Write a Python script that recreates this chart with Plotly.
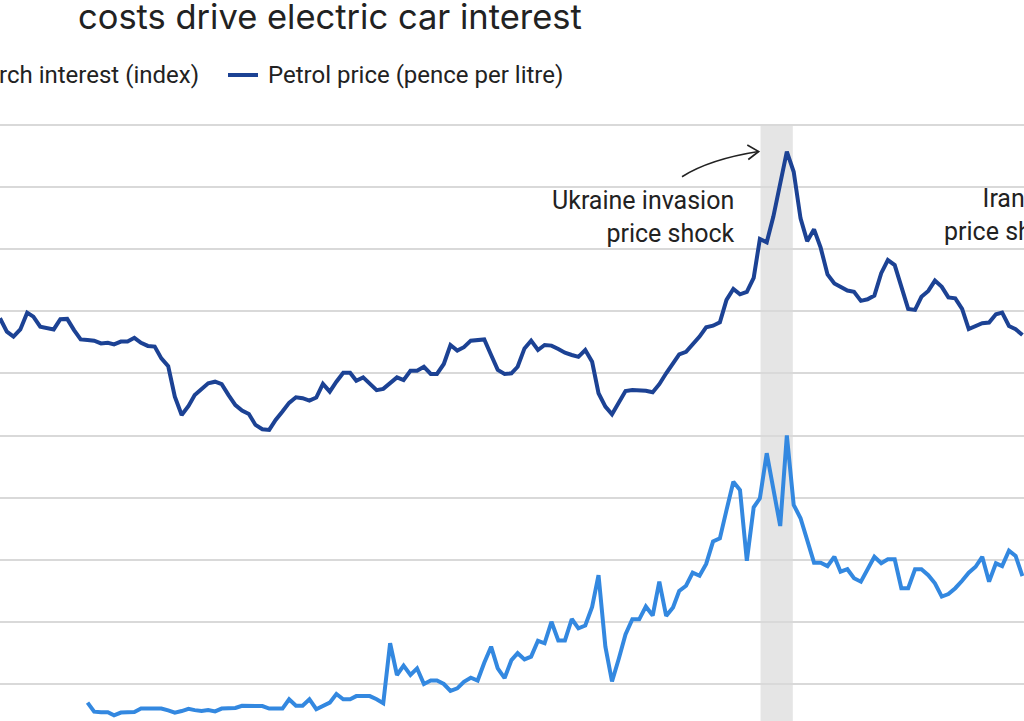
import pandas as pd
import plotly.graph_objects as go

# ---------------- data ----------------
months = pd.date_range("2012-10-01", periods=153, freq="MS")

petrol_pence = [
    137.7, 133.4, 131.8, 134.1, 139.5, 138.2, 135.0, 134.6, 134.1, 137.4,
    137.5, 133.9, 130.9, 130.7, 130.5, 129.6, 129.8, 129.3, 130.2, 130.2,
    131.4, 129.8, 128.8, 128.6, 124.8, 122.3, 112.5, 106.6, 109.5, 113.0,
    114.9, 116.8, 117.3, 116.5, 113.0, 109.8, 108.0, 106.9, 103.4, 102.0,
    101.8, 105.0, 107.7, 110.5, 112.3, 112.0, 111.2, 112.2, 116.6, 114.1,
    117.3, 120.2, 120.2, 117.6, 118.7, 116.6, 114.6, 115.0, 117.0, 118.7,
    117.8, 120.8, 120.8, 122.1, 119.8, 119.8, 123.0, 129.1, 127.3, 128.4,
    130.5, 130.7, 130.9, 125.9, 121.1, 119.8, 120.0, 122.1, 128.0, 130.5,
    127.5, 129.1, 128.9, 127.8, 126.6, 125.9, 125.3, 127.5, 123.7, 113.6,
    109.3, 106.8, 110.9, 114.3, 114.6, 114.6, 114.4, 113.9, 116.5, 120.0,
    123.2, 126.1, 126.9, 129.1, 131.8, 134.8, 135.3, 136.4, 143.6, 147.1,
    145.4, 146.2, 150.7, 163.2, 162.1, 170.4, 181.6, 191.3, 184.8, 169.8,
    162.5, 166.3, 160.4, 151.8, 148.9, 147.8, 146.6, 146.2, 143.3, 143.8,
    145.0, 152.2, 156.4, 154.8, 147.8, 140.7, 140.4, 144.6, 146.5, 149.8,
    147.8, 144.4, 144.1, 140.7, 134.2, 135.2, 136.1, 136.3, 139.0, 139.5,
    135.2, 134.2, 132.3,
]

search_index = [None] * 13 + [
    14.1, 11.2, 11.0, 11.0, 10.0, 10.9, 11.0, 11.1, 12.2, 12.2,
    12.2, 12.2, 11.6, 10.9, 11.4, 12.1, 11.7, 11.4, 11.7, 11.3,
    12.2, 12.2, 12.4, 13.1, 13.1, 13.1, 13.0, 12.2, 12.2, 12.2,
    15.2, 13.1, 13.1, 15.2, 12.0, 13.1, 14.1, 16.9, 15.2, 15.2,
    16.2, 16.2, 16.2, 15.2, 13.9, 33.2, 23.0, 26.0, 23.0, 25.1,
    20.1, 21.2, 21.2, 20.1, 17.9, 18.7, 20.8, 22.1, 21.2, 26.9,
    32.1, 25.1, 22.0, 27.8, 30.0, 28.0, 28.9, 34.0, 33.2, 40.1,
    34.1, 34.1, 41.0, 38.0, 38.9, 44.9, 55.1, 32.1, 20.9, 28.3,
    36.0, 40.9, 40.9, 45.0, 42.1, 53.0, 42.0, 44.7, 50.0, 51.7,
    55.9, 54.9, 58.7, 65.9, 66.9, 76.0, 85.1, 82.5, 59.7, 76.9,
    79.8, 94.3, 82.5, 70.9, 100.0, 77.7, 73.4, 65.9, 59.1, 59.1,
    58.0, 61.0, 56.2, 57.0, 54.1, 53.0, 57.0, 61.0, 58.9, 60.2,
    60.2, 50.9, 50.9, 57.0, 57.0, 55.1, 52.5, 48.2, 49.0, 50.9,
    53.3, 55.9, 57.8, 61.0, 53.0, 58.9, 58.0, 63.0, 61.3, 54.8,
]

series_names = ["Search interest (index)", "Petrol price (pence per litre)"]
title_text = "costs drive electric car interest"
ukraine_label = "Ukraine invasion<br>price shock"
iran_label = "Iran war<br>price shock"
ukraine_window = ["2022-03-04", "2022-07-28"]

# ---------------- style ----------------
DARK = "#1c4294"
LIGHT = "#3388e0"
GRID = "#d9d9d9"
BAND = "#e5e5e5"
TEXT = "#222222"
LABEL_FONT = "Roboto, Arial, sans-serif"

W, H, T = 1024, 721, 100


def px(x):
    return x / W


def py(y):
    return 1 - (y - T) / (H - T)


fig = go.Figure()
fig.add_trace(go.Scatter(x=months, y=search_index, mode="lines", name=series_names[0],
                         line=dict(color=LIGHT, width=4), connectgaps=False))
fig.add_trace(go.Scatter(x=months, y=petrol_pence, mode="lines", name=series_names[1],
                         line=dict(color=DARK, width=4)))

# Ukraine shaded window
fig.add_shape(type="rect", xref="x", yref="y", x0=ukraine_window[0], x1=ukraine_window[1],
              y0=0, y1=200, fillcolor=BAND, line=dict(width=0), layer="below")

# curved arrow
fig.add_shape(type="path", xref="paper", yref="paper",
              path=f"M {px(682)},{py(176.7)} Q {px(709.6)},{py(159.2)} {px(758.5)},{py(151.5)}",
              line=dict(color=TEXT, width=1.6))
fig.add_shape(type="path", xref="paper", yref="paper",
              path=f"M {px(747.3)},{py(145)} L {px(758.7)},{py(151.5)} L {px(748.3)},{py(159.5)}",
              line=dict(color=TEXT, width=1.6))

# legend (manual)
fig.add_shape(type="line", xref="paper", yref="paper", x0=px(228), x1=px(258),
              y0=py(75), y1=py(75), line=dict(color=DARK, width=4))
fig.add_annotation(xref="paper", yref="paper", x=px(266), y=py(75), xanchor="left",
                   yanchor="middle", text=series_names[1], showarrow=False,
                   font=dict(family=LABEL_FONT, size=24, color=TEXT))
fig.add_annotation(xref="paper", yref="paper", x=px(201), y=py(75), xanchor="right",
                   yanchor="middle", text=series_names[0], showarrow=False,
                   font=dict(family=LABEL_FONT, size=24, color=TEXT))

# title
fig.add_annotation(xref="paper", yref="paper", x=px(584), y=py(16), xanchor="right",
                   yanchor="middle", text=title_text, showarrow=False,
                   font=dict(family="Inter, Arial, sans-serif", size=34.5, color=TEXT))

# event labels
fig.add_annotation(xref="paper", yref="paper", x=px(737), y=py(217), xanchor="right",
                   yanchor="middle", align="right", text=ukraine_label, showarrow=False,
                   font=dict(family=LABEL_FONT, size=25, color=TEXT))
fig.add_annotation(xref="paper", yref="paper", x=px(942), y=py(215), xanchor="left",
                   yanchor="middle", align="right", text=iran_label, showarrow=False,
                   font=dict(family=LABEL_FONT, size=25, color=TEXT))

fig.update_xaxes(range=["2012-10-01", "2025-06-08"], showgrid=False, showticklabels=False,
                 zeroline=False, showline=False, ticks="")
fig.update_yaxes(range=[8.2, 207.88], dtick=20, tick0=0, showgrid=True, gridcolor=GRID,
                 gridwidth=2, showticklabels=False, zeroline=False, showline=False, ticks="")

fig.update_layout(width=W, height=H, margin=dict(l=0, r=0, t=T, b=0),
                  plot_bgcolor="white", paper_bgcolor="white", showlegend=False)

fig.write_html("out.html")
